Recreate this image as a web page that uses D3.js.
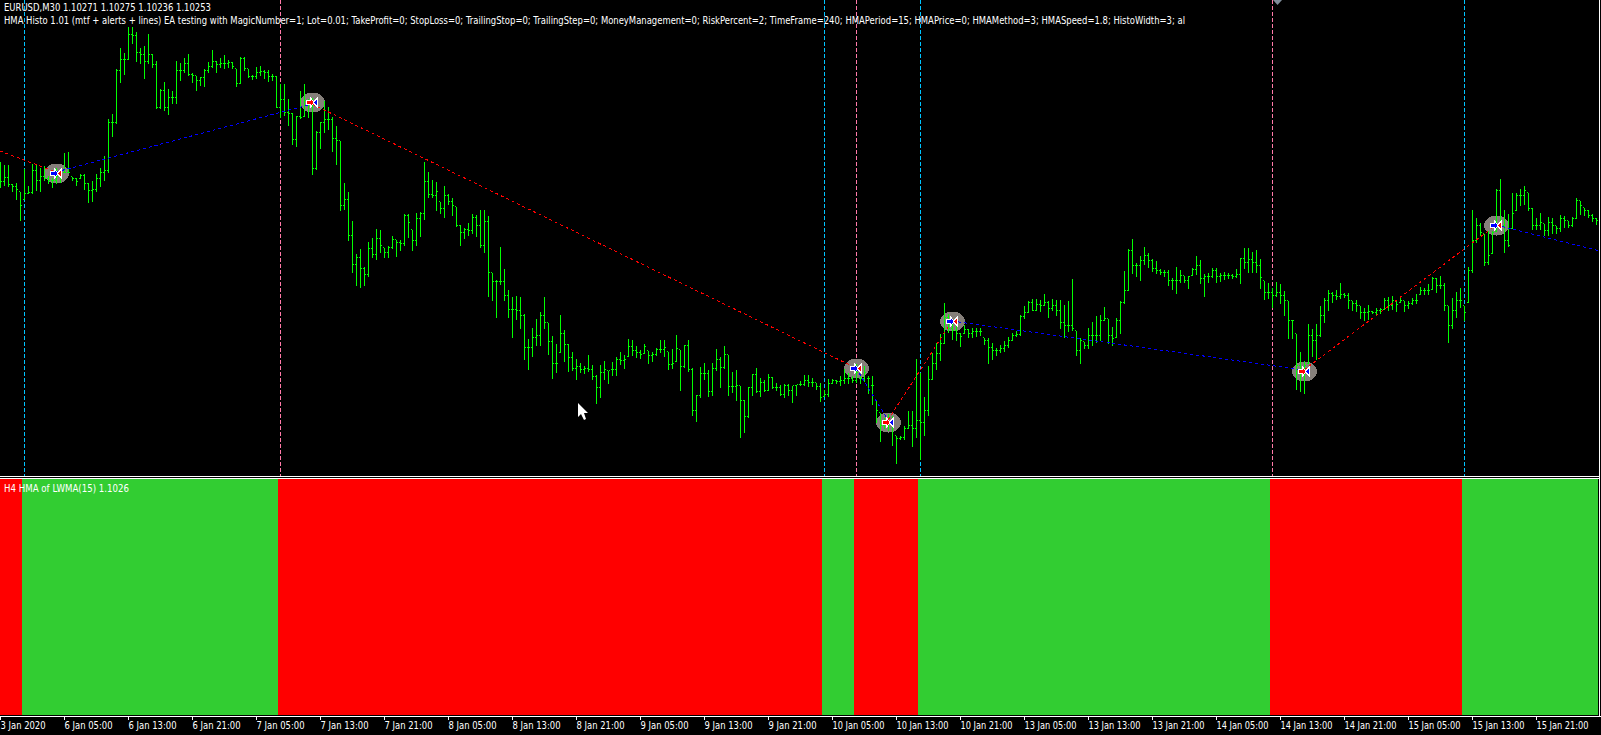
<!DOCTYPE html>
<html>
<head>
<meta charset="utf-8">
<style>
html, body { margin: 0; padding: 0; background: #000; overflow: hidden; }
svg { display: block; }
text { font-family: "DejaVu Sans", sans-serif; font-size: 10.5px; fill: #fff; }
</style>
<script src="https://cdn.jsdelivr.net/npm/d3@7"></script>
</head>
<body>
<div id="svgDiv"></div>
<script>
//bar values, in steps of 3 points above the bottom of the price range
var opens = [325,319,323,316,314,309,301,307,308,330,
320,324,322,320,320,324,328,328,324,322,
322,325,317,310,311,322,328,330,378,378,
430,441,441,466,465,448,446,439,446,436,
393,410,393,403,403,430,430,437,426,425,
420,423,430,434,439,436,437,437,438,432,
417,442,432,424,424,428,429,428,
424,424,393,401,388,387,361,384,384,400,
396,332,368,378,381,381,362,360,295,301,
265,236,243,232,226,252,246,262,253,248,
253,261,258,257,285,271,260,282,287,319,
306,305,299,292,305,299,294,275,268,271,
270,283,275,255,279,228,219,219,219,205,
191,191,190,185,153,153,163,165,185,178,
159,137,148,167,156,143,132,134,131,132,
131,124,113,128,130,131,131,141,140,144,
154,150,148,147,150,145,146,151,151,149,
136,139,151,134,155,131,90,105,127,127,
109,132,141,133,146,114,114,115,100,84,
113,126,109,118,110,123,113,113,106,115,
110,115,
116,116,120,118,118,114,104,106,117,120,
119,120,122,122,120,122,122,122,115,100,
88,75,78,77,65,62,63,72,75,72,
80,78,90,121,137,147,157,183,172,170,
167,167,171,167,169,169,163,160,153,150,
150,152,155,160,165,166,184,188,198,190,
196,195,198,192,195,190,178,175,175,170,
150,159,155,165,165,165,180,182,165,163,
180,198,210,250,235,235,240,245,240,232,
230,228,228,220,220,220,225,220,225,231,
235,222,224,224,230,224,225,225,225,224,
226,242,238,241,238,235,220,208,208,205,
208,205,200,180,167,135,130,137,165,160,
165,185,200,207,205,204,206,205,200,197,
195,188,188,189,188,190,191,200,195,200,
198,200,195,197,200,206,210,210,211,222,
215,215,195,175,190,200,195,198,230,260,
275,267,238,247,269,310,275,260,272,290,
305,305,308,292,275,275,277,270,278,275,
272,282,280,275,282,300,293,290,285,282];

var highs = [339,336,336,317,318,309,332,315,337,337,
333,335,325,323,333,332,348,349,324,323,
327,327,318,320,327,333,345,382,387,432,
453,448,474,474,469,453,455,467,447,440,
412,419,412,410,440,438,443,447,428,425,
424,432,439,451,440,443,446,441,439,432,
444,444,432,426,434,435,431,431,
427,425,417,417,402,388,385,410,417,402,
403,370,379,400,394,384,375,360,318,309,
280,247,252,234,259,263,272,271,253,255,
265,261,261,287,287,271,288,289,339,329,
321,319,299,315,307,303,294,276,273,278,
287,286,291,291,285,228,221,254,232,211,
204,205,204,187,162,173,182,189,204,178,
165,157,186,171,157,149,142,138,135,146,
136,126,136,140,130,139,144,149,146,162,
161,155,151,157,150,149,153,161,161,149,
152,166,151,156,161,133,106,134,138,131,
138,152,144,155,146,129,131,115,101,114,
127,133,123,121,127,124,118,116,117,117,
115,116,
120,126,126,123,118,118,111,122,122,121,
125,132,128,125,137,125,135,125,125,100,
88,83,87,85,65,65,75,90,90,142,
128,104,135,148,158,167,198,187,182,177,
168,176,172,173,173,173,163,163,158,153,
156,160,164,168,170,186,195,200,202,202,
201,207,200,202,201,201,196,200,222,170,
163,159,173,179,185,186,194,182,174,183,
200,230,252,262,238,245,254,248,242,240,
232,231,231,223,234,231,225,225,233,245,
241,227,228,233,233,228,229,228,227,232,
243,253,253,249,251,242,220,218,213,219,
217,210,200,181,167,149,140,177,172,177,
195,203,211,209,211,218,208,208,200,201,
195,193,196,190,193,193,203,204,205,201,
205,200,200,203,207,214,213,217,224,223,
225,218,195,203,209,213,195,234,291,283,
278,267,270,270,312,322,291,287,308,308,
312,315,308,293,283,288,277,284,283,275,
286,285,280,284,303,300,293,291,287,283];

var lows = [313,315,314,309,301,280,301,307,307,310,
309,320,317,313,317,318,328,328,320,315,
322,311,298,299,309,314,320,328,364,377,
418,426,441,457,439,437,422,437,433,392,
392,390,386,397,397,420,428,425,418,410,
415,414,428,433,428,433,432,433,432,414,
417,430,423,421,422,425,422,419,
420,393,383,385,375,356,354,382,384,383,
326,331,352,368,371,349,336,290,291,260,
228,215,213,215,224,243,241,248,243,243,
252,244,250,255,263,250,255,264,281,303,
303,290,287,283,296,285,274,255,262,265,
267,264,253,248,204,200,183,216,200,183,
163,181,172,141,131,144,155,155,172,146,
122,128,148,139,129,130,121,128,127,129,
121,97,103,121,117,125,125,136,132,144,
145,143,142,147,137,139,145,148,144,131,
132,139,110,133,129,85,79,103,121,104,
105,130,113,132,105,108,100,63,68,83,
105,108,104,109,110,112,110,105,103,105,
98,105,
115,115,114,114,111,99,104,104,117,117,
115,117,117,118,118,117,119,107,96,78,
59,72,70,55,37,61,61,72,54,63,
41,65,85,121,131,140,157,168,161,160,
154,167,163,163,164,165,156,137,141,145,
148,149,153,160,164,165,182,188,190,190,
189,195,183,190,185,172,163,169,170,145,
137,152,152,155,158,160,180,157,155,163,
167,197,210,227,224,220,236,233,229,227,
226,224,215,211,207,218,218,212,225,226,
217,204,218,223,218,219,221,222,222,223,
217,232,228,228,228,212,201,202,193,204,
197,185,162,162,111,109,107,137,144,141,
164,178,190,198,201,202,203,192,190,189,
182,180,181,187,186,187,191,190,191,189,
198,189,192,196,197,206,206,206,211,208,
212,190,158,172,183,193,180,198,228,258,
265,235,236,247,269,277,248,254,272,290,
295,296,290,271,271,271,265,265,267,267,
269,273,273,274,282,286,285,283,279,276];

var closes = [319,323,316,314,311,295,307,308,330,320,
324,322,320,320,324,328,328,328,322,319,
325,317,310,311,322,328,330,378,378,430,
441,441,466,465,448,446,439,446,436,393,
410,393,403,403,430,430,437,426,425,420,
423,430,434,439,436,437,437,438,434,417,
442,432,424,424,428,429,428,424,
424,393,401,388,387,361,384,383,400,396,
332,368,378,381,381,362,360,295,301,265,
236,243,232,226,252,246,262,255,248,253,
261,258,257,285,278,260,282,287,319,306,
305,309,292,305,299,295,275,268,271,270,
283,275,255,279,228,219,219,219,205,191,
191,190,185,153,153,163,165,185,178,159,
137,137,167,156,143,132,134,131,132,131,
124,113,128,131,130,131,141,140,141,154,
150,148,146,154,145,146,151,151,153,136,
137,152,134,155,131,90,105,127,127,109,
132,141,133,146,114,114,115,100,84,113,
126,109,118,110,123,113,113,106,115,110,
115,116,
116,120,118,118,114,103,106,117,120,119,
120,122,122,120,128,122,128,122,115,90,
75,78,77,80,62,63,72,75,72,80,
78,90,121,137,147,157,183,172,170,167,
164,171,167,169,169,169,160,153,150,150,
152,155,160,165,166,184,188,198,190,196,
195,198,192,195,190,178,175,175,172,150,
160,155,165,165,165,180,182,165,162,180,
198,210,250,235,235,240,245,240,232,230,
228,228,220,220,220,225,220,224,231,235,
222,224,224,230,224,225,225,225,224,226,
242,238,241,238,235,223,208,208,205,208,
205,200,180,180,135,130,135,165,160,165,
185,200,207,205,204,206,205,200,197,195,
188,188,189,188,190,191,200,195,200,196,
200,195,197,200,200,210,210,210,222,215,
215,195,175,190,200,200,188,230,260,275,
268,238,245,268,310,275,260,255,287,305,
305,310,292,275,275,278,270,278,275,272,
282,280,275,282,300,295,290,285,282,280];

//ea trade lines and markers (bar index, price level)
var tradeBars = [0,14,78,214,222,238,326,374,400];
var tradeLevels = [349,328,396,132,80,179,130,275,249];
var tradeColors = ["red","blue","red","blue","red","blue","red","blue"];
var markerBars = [14,78,214,222,238,326,374];
var markerLevels = [327,398,132,78,179,129,275];
var markerLeftColors = ["blue","red","blue","red","blue","red","blue"];

//dashed vertical lines on the main pane
var vLineBars = [6,70,206,214,230,318,366];
var vLineColors = ["#00c4ff","#ff7aa8","#00c4ff","#ff7aa8","#00c4ff","#ff7aa8","#00c4ff"];

//hma histogram runs in the lower pane
var histEnds = [5.5,69.5,205.5,213.5,229.5,317.5,365.5,399.5];
var histColors = ["#ff0000","#32cd32","#ff0000","#32cd32","#ff0000","#32cd32","#ff0000","#32cd32"];

var tickBars = [0,16,32,48,64,80,96,112,128,144,160,176,192,208,224,240,256,272,288,304,320,336,352,368,384];
var tickLabels = ["3 Jan 2020","6 Jan 05:00","6 Jan 13:00","6 Jan 21:00","7 Jan 05:00","7 Jan 13:00","7 Jan 21:00",
    "8 Jan 05:00","8 Jan 13:00","8 Jan 21:00","9 Jan 05:00","9 Jan 13:00","9 Jan 21:00",
    "10 Jan 05:00","10 Jan 13:00","10 Jan 21:00","13 Jan 05:00","13 Jan 13:00","13 Jan 21:00",
    "14 Jan 05:00","14 Jan 13:00","14 Jan 21:00","15 Jan 05:00","15 Jan 13:00","15 Jan 21:00"];

var headerLine1 = "EURUSD,M30  1.10271 1.10275 1.10236 1.10253";
var headerLine2 = "HMA Histo 1.01 (mtf + alerts + lines) EA testing with MagicNumber=1; Lot=0.01; TakeProfit=0; StopLoss=0; TrailingStop=0; TrailingStep=0; MoneyManagement=0; RiskPercent=2; TimeFrame=240; HMAPeriod=15; HMAPrice=0; HMAMethod=3; HMASpeed=1.8; HistoWidth=3; al";
var histLabel = "H4 HMA of LWMA(15) 1.1026";

var svgWidth = 1601, svgHeight = 735;
var mainBottom = 476, histTop = 479, histBottom = 715;

var svg = d3.select("#svgDiv")
    .append("svg")
    .attr("width", svgWidth)
    .attr("height", svgHeight);

svg.append("rect")
    .attr("width", svgWidth)
    .attr("height", svgHeight)
    .attr("fill", "#000");

var xScale = d3.scaleLinear().domain([0, 400]).range([0, 1600]);
var yScale = d3.scaleLinear().domain([500, 0]).range([0, 500]);

//bars sit on whole pixels, half pixel keeps the 1px lines sharp
function barX(i){ return xScale(i) + 0.5; }
function priceY(v){ return Math.round(yScale(v)) + 0.5; }

var main = svg.append("g").attr("shape-rendering", "crispEdges");

//vertical lines go under everything
main.selectAll(".vline")
    .data(vLineBars)
    .enter().append("line")
    .attr("class", "vline")
    .attr("x1", function(d){ return barX(d); })
    .attr("x2", function(d){ return barX(d); })
    .attr("y1", 0)
    .attr("y2", mainBottom)
    .attr("stroke", function(d, i){ return vLineColors[i]; })
    .attr("stroke-dasharray", "4,2");

//grey blobs behind the bars
main.selectAll(".blob")
    .data(markerBars)
    .enter().append("ellipse")
    .attr("class", "blob")
    .attr("cx", function(d){ return barX(d); })
    .attr("cy", function(d, i){ return priceY(markerLevels[i]); })
    .attr("rx", 12.5)
    .attr("ry", 10)
    .attr("fill", "#857f7a");

//ohlc bars, ticks are one pixel each side of the stem
var bars = main.selectAll(".bar")
    .data(highs)
    .enter().append("path")
    .attr("class", "bar")
    .attr("fill", "none")
    .attr("stroke", "#00ff00")
    .attr("d", function(d, i){
        var x = barX(i);
        return "M" + x + "," + priceY(highs[i]) + "V" + priceY(lows[i]) +
            "M" + (x - 1.5) + "," + priceY(opens[i]) + "H" + (x - 0.5) +
            "M" + (x + 0.5) + "," + priceY(closes[i]) + "H" + (x + 1.5);
    });

//trade lines
main.selectAll(".trade")
    .data(tradeColors)
    .enter().append("line")
    .attr("class", "trade")
    .attr("x1", function(d, i){ return xScale(tradeBars[i]); })
    .attr("y1", function(d, i){ return yScale(tradeLevels[i]); })
    .attr("x2", function(d, i){ return xScale(tradeBars[i + 1]); })
    .attr("y2", function(d, i){ return yScale(tradeLevels[i + 1]); })
    .attr("stroke", function(d){ return d == "red" ? "#ff0000" : "#0000ff"; })
    .attr("stroke-dasharray", "3,3");

//arrow pair on top of each marker
var flags = main.selectAll(".flag")
    .data(markerBars)
    .enter().append("g")
    .attr("class", "flag")
    .attr("transform", function(d, i){
        return "translate(" + barX(d) + "," + priceY(markerLevels[i]) + ")";
    });

flags.append("path")
    .attr("d", "M-6.5,-2H-2.5V-5L2,0L-2.5,5V2H-6.5Z")
    .attr("fill", function(d, i){ return markerLeftColors[i]; })
    .attr("stroke", "#fff");

flags.append("path")
    .attr("d", "M5,-5V5L1,0Z")
    .attr("fill", function(d, i){ return markerLeftColors[i] == "blue" ? "red" : "blue"; })
    .attr("stroke", "#fff");

//mouse pointer left in the screenshot
svg.append("path")
    .attr("d", "M578,403V417L581,414L584,420L586,419L584,413L588,413Z")
    .attr("fill", "#fff");

//small grey chart shift marks
svg.append("path")
    .attr("d", "M1273,0L1282,0L1277.5,5Z")
    .attr("fill", "#7f8c99");
svg.append("path")
    .attr("d", "M47,715L52,710L57,715Z")
    .attr("fill", "#7f8c99");

//pane borders
var borders = svg.append("g")
    .attr("shape-rendering", "crispEdges")
    .attr("stroke", "#fff");
borders.append("line").attr("x1", 0).attr("x2", 1599).attr("y1", mainBottom + 0.5).attr("y2", mainBottom + 0.5);
borders.append("line").attr("x1", 0).attr("x2", 1599).attr("y1", histTop - 0.5).attr("y2", histTop - 0.5);
borders.append("line").attr("x1", 1599.5).attr("x2", 1599.5).attr("y1", 0).attr("y2", histBottom + 1);

//histogram runs
svg.append("g")
    .attr("shape-rendering", "crispEdges")
    .selectAll("rect")
    .data(histEnds)
    .enter().append("rect")
    .attr("x", function(d, i){ return i == 0 ? 0 : xScale(histEnds[i - 1]); })
    .attr("y", histTop)
    .attr("width", function(d, i){ return xScale(d) - (i == 0 ? 0 : xScale(histEnds[i - 1])); })
    .attr("height", histBottom - histTop)
    .attr("fill", function(d, i){ return histColors[i]; });

//time axis
var xAxis = d3.axisBottom(xScale)
    .tickValues(tickBars)
    .tickFormat(function(d, i){ return tickLabels[i]; })
    .tickSize(4)
    .tickSizeOuter(0);

var axisG = svg.append("g")
    .attr("transform", "translate(0," + (histBottom + 0.5) + ")")
    .attr("shape-rendering", "crispEdges")
    .call(xAxis);

axisG.select(".domain").attr("stroke", "#fff");
axisG.selectAll(".tick line").attr("stroke", "#fff");
axisG.selectAll(".tick text")
    .attr("fill", "#fff")
    .attr("y", 13)
    .attr("dy", 0)
    .attr("text-anchor", "start")
    .style("font-family", "'DejaVu Sans', sans-serif")
    .style("font-size", "10.5px")
    .attr("textLength", function(d, i){ return tickLabels[i].length > 10 && tickLabels[i].indexOf(" ") > 1 ? 52 : (i == 0 ? 45 : 48); })
    .attr("lengthAdjust", "spacingAndGlyphs");

//header texts
svg.append("text").attr("x", 4).attr("y", 11).attr("textLength", 207).attr("lengthAdjust", "spacingAndGlyphs").text(headerLine1);
svg.append("text").attr("x", 4).attr("y", 24).attr("textLength", 1181).attr("lengthAdjust", "spacingAndGlyphs").text(headerLine2);
svg.append("text").attr("x", 4).attr("y", 492).attr("textLength", 125).attr("lengthAdjust", "spacingAndGlyphs").text(histLabel);
</script>
</body>
</html>
